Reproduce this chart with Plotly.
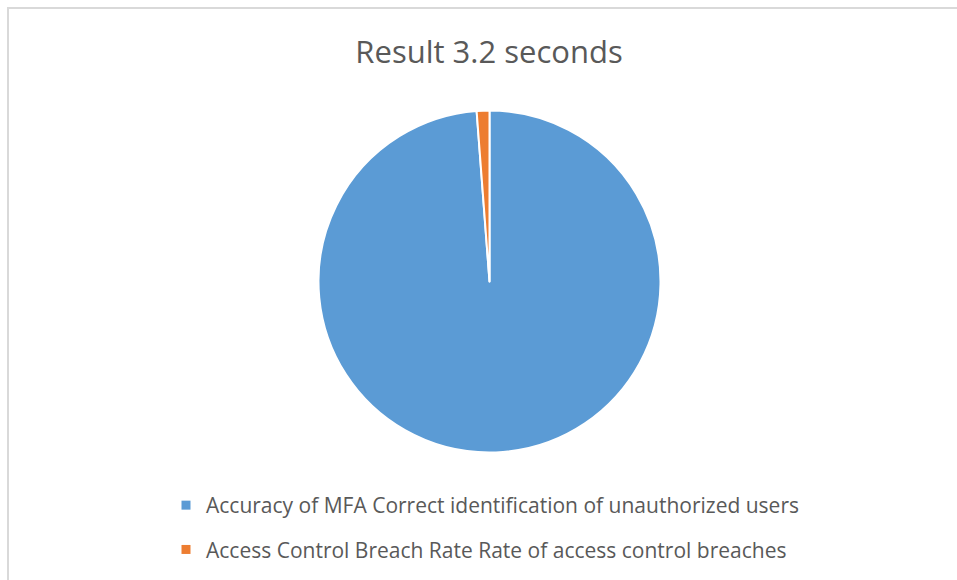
import plotly.graph_objects as go

labels = [
    "Accuracy of MFA Correct identification of unauthorized users",
    "Access Control Breach Rate Rate of access control breaches",
]
values = [98.8, 1.2]
colors = ["#5B9BD5", "#ED7D31"]
title_text = "Result 3.2 seconds"

W, H = 957, 580
cx, cy, r = 489.5, 281.5, 171

fig = go.Figure()
fig.add_trace(go.Pie(
    labels=labels, values=values, sort=False, direction="clockwise", rotation=0,
    marker=dict(colors=colors, line=dict(color="white", width=2)),
    textinfo="none", hoverinfo="label+value", showlegend=False,
    domain=dict(x=[(cx - r) / W, (cx + r) / W], y=[1 - (cy + r) / H, 1 - (cy - r) / H]),
))
for i, (lab, col) in enumerate(zip(labels, colors)):
    fig.add_trace(go.Scatter(
        x=[None], y=[None], mode="markers", name=lab, legendgroup=f"g{i}",
        marker=dict(symbol="square", size=9, color=col), showlegend=True,
    ))

fig.update_layout(
    width=W, height=H,
    margin=dict(l=0, r=0, t=0, b=0),
    paper_bgcolor="white", plot_bgcolor="white",
    xaxis=dict(visible=False), yaxis=dict(visible=False),
    title=dict(text=title_text, x=0.511, xanchor="center", y=1 - 52 / H, yanchor="middle",
               font=dict(family="Open Sans", size=31, color="#595959")),
    legend=dict(x=166 / W, y=1 - 485 / H, xanchor="left", yanchor="top",
                orientation="v", traceorder="grouped", tracegroupgap=14,
                font=dict(family="Open Sans", size=21, color="#595959"),
                bgcolor="rgba(0,0,0,0)"),
    shapes=[dict(type="rect", xref="paper", yref="paper",
                 x0=8 / W, x1=1.05, y0=-0.05, y1=1 - 8 / H,
                 line=dict(color="#d9d9d9", width=2), fillcolor="rgba(0,0,0,0)")],
)
fig.write_html("out.html")
